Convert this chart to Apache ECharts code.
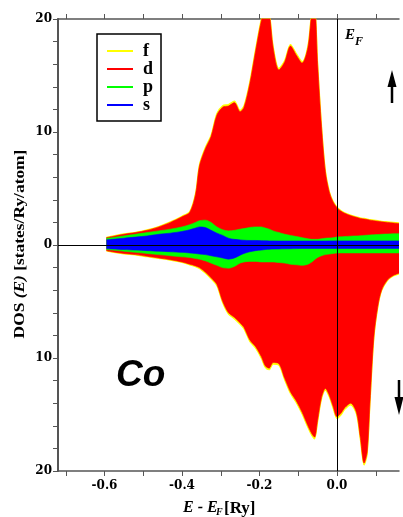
<!DOCTYPE html>
<html>
<head>
<meta charset="utf-8">
<script src="https://cdn.jsdelivr.net/npm/echarts@6/dist/echarts.min.js"></script>
<style>html,body{margin:0;padding:0;background:#fff;}#c{width:403px;height:517px;}</style>
</head>
<body>
<div id="c"></div>
<script>
// Energy grid E - E_F [Ry]
const energy = [-0.595,-0.58,-0.55,-0.52,-0.49,-0.46,-0.43,-0.40,-0.38,-0.365,-0.355,-0.34,-0.325,-0.31,-0.295,-0.28,-0.265,-0.25,-0.24,-0.225,-0.21,-0.195,-0.185,-0.175,-0.165,-0.15,-0.135,-0.12,-0.105,-0.09,-0.075,-0.065,-0.058,-0.05,-0.04,-0.03,-0.02,-0.01,0.0,0.01,0.02,0.035,0.05,0.06,0.07,0.078,0.085,0.095,0.105,0.115,0.13,0.145,0.16];
// Spin-up partial DOS (states/Ry/atom)
const sUp = [0.45,0.5,0.6,0.7,0.8,0.95,1.05,1.2,1.35,1.5,1.6,1.55,1.3,1.05,0.85,0.6,0.5,0.45,0.42,0.4,0.4,0.38,0.37,0.36,0.36,0.35,0.35,0.35,0.35,0.35,0.35,0.35,0.35,0.35,0.35,0.35,0.36,0.36,0.36,0.36,0.36,0.36,0.36,0.36,0.36,0.36,0.36,0.36,0.36,0.36,0.36,0.36,0.36];
const pUp = [0.15,0.15,0.2,0.25,0.3,0.3,0.35,0.4,0.45,0.5,0.55,0.65,0.7,0.55,0.5,0.65,0.8,0.95,1.03,1.15,1.2,1.22,1.13,1.04,0.89,0.75,0.6,0.5,0.4,0.3,0.2,0.15,0.15,0.15,0.2,0.25,0.26,0.29,0.34,0.36,0.39,0.42,0.44,0.46,0.49,0.51,0.52,0.54,0.56,0.59,0.61,0.64,0.64];
const dUp = [0.05,0.1,0.15,0.15,0.2,0.35,0.6,0.9,1.1,2.5,4.85,6.3,7.6,9.9,10.85,11.05,11.3,10.4,10.75,12.75,15.6,18.3,19.5,19.1,16.25,14.4,15.25,16.75,16.05,15.45,16.95,20.0,20.5,15.5,9.95,5.9,4.08,3.15,2.6,2.28,2.05,1.82,1.65,1.53,1.45,1.38,1.32,1.25,1.18,1.1,1.03,0.95,0.9];
const fUp = [0.03,0.03,0.03,0.03,0.04,0.04,0.05,0.05,0.06,0.08,0.1,0.11,0.12,0.13,0.13,0.13,0.13,0.12,0.12,0.13,0.14,0.15,0.15,0.15,0.14,0.13,0.13,0.14,0.14,0.13,0.14,0.15,0.15,0.13,0.1,0.08,0.07,0.06,0.06,0.06,0.05,0.05,0.05,0.05,0.05,0.05,0.05,0.05,0.05,0.05,0.05,0.05,0.05];
// Spin-down partial DOS (plotted downwards)
const sDn = [-0.3,-0.35,-0.4,-0.45,-0.5,-0.55,-0.6,-0.65,-0.7,-0.75,-0.8,-0.85,-0.95,-1.05,-1.15,-1.25,-1.15,-0.9,-0.75,-0.6,-0.5,-0.45,-0.4,-0.38,-0.36,-0.35,-0.34,-0.33,-0.32,-0.3,-0.3,-0.3,-0.3,-0.3,-0.3,-0.3,-0.3,-0.3,-0.3,-0.3,-0.3,-0.3,-0.3,-0.3,-0.3,-0.3,-0.3,-0.3,-0.3,-0.3,-0.3,-0.3,-0.3];
const pDn = [-0.1,-0.1,-0.15,-0.2,-0.25,-0.3,-0.35,-0.4,-0.4,-0.45,-0.45,-0.55,-0.65,-0.75,-0.85,-0.8,-0.75,-0.7,-0.75,-0.85,-0.95,-1.05,-1.1,-1.12,-1.14,-1.2,-1.26,-1.37,-1.43,-1.5,-1.4,-1.2,-1.0,-0.8,-0.65,-0.55,-0.5,-0.45,-0.4,-0.4,-0.4,-0.4,-0.4,-0.4,-0.4,-0.4,-0.4,-0.4,-0.4,-0.4,-0.4,-0.4,-0.4];
const dDn = [-0.1,-0.15,-0.2,-0.2,-0.25,-0.3,-0.35,-0.45,-0.6,-0.65,-0.75,-1.0,-1.3,-1.7,-3.0,-3.95,-4.5,-5.3,-5.8,-6.95,-7.55,-8.4,-9.2,-9.4,-8.9,-8.95,-10.2,-11.3,-12.05,-13.0,-14.3,-15.2,-15.7,-14.4,-12.55,-11.85,-12.5,-13.55,-14.5,-14.2,-13.7,-13.3,-14.1,-16.3,-18.6,-17.6,-13.3,-7.5,-4.8,-3.3,-2.4,-2.0,-1.8];
const fDn = [-0.03,-0.03,-0.03,-0.03,-0.04,-0.04,-0.05,-0.05,-0.06,-0.06,-0.07,-0.08,-0.09,-0.1,-0.11,-0.12,-0.12,-0.12,-0.12,-0.13,-0.13,-0.14,-0.14,-0.14,-0.14,-0.14,-0.14,-0.15,-0.15,-0.15,-0.16,-0.16,-0.16,-0.15,-0.14,-0.14,-0.14,-0.15,-0.15,-0.15,-0.15,-0.14,-0.15,-0.16,-0.17,-0.16,-0.14,-0.1,-0.08,-0.06,-0.05,-0.05,-0.05];
// Axis ticks and labels
const xTicks = [-0.7,-0.6,-0.5,-0.4,-0.3,-0.2,-0.1,0.0,0.1];
const xLabels = [-0.6,-0.4,-0.2,0.0];
const yTicks = [-20,-18,-16,-14,-12,-10,-8,-6,-4,-2,0,2,4,6,8,10,12,14,16,18,20];
const yLabels = [-20,-10,0,10,20];
const colors = {s:'#0000ff', p:'#00ff00', d:'#ff0000', f:'#ffff00'};

// Cumulative layers (s, s+p, s+p+d, s+p+d+f); drawn largest first so smaller ones sit on top
function cumulative(parts) {
  const out = [];
  let acc = energy.map(()=>0);
  parts.forEach(arr => { acc = acc.map((v,i)=>v+arr[i]); out.push(acc.slice()); });
  return out;
}
const upCum = cumulative([sUp,pUp,dUp,fUp]);
const dnCum = cumulative([sDn,pDn,dDn,fDn]);
const order = ['s','p','d','f'];

function mk(name, arr, z) {
  return {
    type:'line', name:name, symbol:'none', silent:true, smooth:0.3,
    data: energy.map((e,i)=>[e, arr[i]]),
    lineStyle:{width:name==='f'?1.2:0.6, color:colors[name]},
    itemStyle:{color:colors[name]},
    areaStyle:{color:colors[name], opacity:1, origin:0},
    z: z
  };
}
const series = [];
for (let k = 3; k >= 0; k--) {
  series.push(mk(order[k], upCum[k], 2 + (3-k)*0.1));
  series.push(mk(order[k], dnCum[k], 2 + (3-k)*0.1));
}
series.push({
  type:'line', data:[], silent:true, z:5,
  markLine:{symbol:'none', silent:true, label:{show:false}, z:10, animation:false,
    lineStyle:{color:'#000', width:1, type:'solid'},
    data:[{yAxis:0},{xAxis:0}]}
});

const serif = '"Liberation Serif","Times New Roman",serif';
const tickFont = {fontFamily:'"DejaVu Serif",serif', fontWeight:'bold', fontSize:12, color:'#000'};
const axisCol = '#555';

const chart = echarts.init(document.getElementById('c'), null, {renderer:'canvas'});
chart.setOption({
  animation:false,
  backgroundColor:'#fff',
  grid:{left:58, top:19, right:4, bottom:46, containLabel:false},
  legend:{
    data:['f','d','p','s'], orient:'vertical', left:97, top:34,
    icon:'rect', itemWidth:26, itemHeight:2, itemGap:0,
    borderColor:'#000', borderWidth:1.5, padding:[8,8,7,10],
    selectedMode:false,
    textStyle:{fontFamily:serif, fontWeight:'bold', fontSize:18, color:'#000', lineHeight:17.5, height:17.5, padding:[0,0,0,5]}
  },
  xAxis:[{
    type:'value', min:-0.72, max:0.16, position:'bottom',
    axisLine:{show:true, onZero:false, lineStyle:{color:axisCol, width:1.5}},
    axisTick:{show:true, inside:false, length:5, customValues:xTicks, lineStyle:{color:axisCol, width:1}},
    axisLabel:{show:true, customValues:xLabels, margin:9, ...tickFont,
      formatter:v=>Math.abs(v)<1e-9?'0.0':v.toFixed(1)},
    splitLine:{show:false}
  },{
    type:'value', min:-0.72, max:0.16, position:'top',
    axisLine:{show:true, onZero:false, lineStyle:{color:axisCol, width:1.5}},
    axisTick:{show:true, inside:false, length:5, customValues:xTicks, lineStyle:{color:axisCol, width:1}},
    axisLabel:{show:false}, splitLine:{show:false}
  }],
  yAxis:{
    type:'value', min:-20, max:20,
    axisLine:{show:true, onZero:false, lineStyle:{color:axisCol, width:2}},
    axisTick:{show:true, inside:false, length:5, customValues:yTicks, lineStyle:{color:axisCol, width:1}},
    axisLabel:{show:true, customValues:yLabels, margin:6, ...tickFont, formatter:v=>String(Math.abs(v))},
    splitLine:{show:false}
  },
  series:series,
  graphic:[
    {type:'text', x:20, y:244, rotation:Math.PI/2, scaleX:1.16, z:100,
      style:{text:'{n|DOS }{i|(E)}{n| [states/Ry/atom]}', align:'center', verticalAlign:'middle',
        rich:{n:{fontFamily:serif, fontWeight:'bold', fontSize:15, fill:'#000'},
              i:{fontFamily:serif, fontWeight:'bold', fontStyle:'italic', fontSize:15, fill:'#000'}}}},
    {type:'text', x:183, y:500, z:100,
      style:{text:'E - E', fontFamily:serif, fontWeight:'bold', fontStyle:'italic', fontSize:16, fill:'#000'}},
    {type:'text', x:216, y:507, z:100,
      style:{text:'F', fontFamily:serif, fontWeight:'bold', fontStyle:'italic', fontSize:10, fill:'#000'}},
    {type:'text', x:224, y:500, z:100,
      style:{text:'[Ry]', fontFamily:serif, fontWeight:'bold', fontSize:17, fill:'#000'}},
    {type:'text', x:345, y:28, z:100,
      style:{text:'E', fontFamily:serif, fontWeight:'bold', fontStyle:'italic', fontSize:15, fill:'#000'}},
    {type:'text', x:355, y:36, z:100,
      style:{text:'F', fontFamily:serif, fontWeight:'bold', fontStyle:'italic', fontSize:12, fill:'#000'}},
    {type:'text', x:116, y:357, z:100,
      style:{text:'Co', fontFamily:'"Liberation Sans",Arial,sans-serif', fontWeight:'bold', fontStyle:'italic', fontSize:37, fill:'#000'}},
    {type:'line', z:100, shape:{x1:392, y1:84, x2:392, y2:103}, style:{stroke:'#000', lineWidth:2.5}},
    {type:'polygon', z:100, shape:{points:[[387.5,87],[392,70],[396.5,87]]}, style:{fill:'#000'}},
    {type:'line', z:100, shape:{x1:399, y1:380, x2:399, y2:400}, style:{stroke:'#000', lineWidth:2.5}},
    {type:'polygon', z:100, shape:{points:[[394.5,397],[399,415],[403.5,397]]}, style:{fill:'#000'}}
  ]
});
</script>
</body>
</html>
